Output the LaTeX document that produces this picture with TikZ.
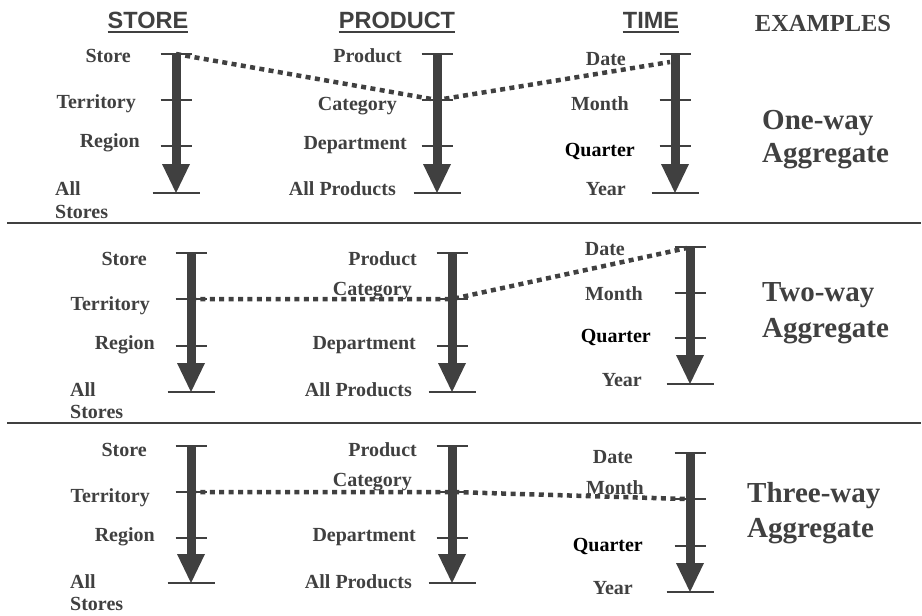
\documentclass[tikz,border=0pt]{standalone}
\usepackage{fontspec}
\setmainfont{Liberation Serif}
\newfontfamily\hdrfont{Liberation Sans}
\usetikzlibrary{arrows.meta}
\definecolor{dk}{RGB}{64,64,64}
\newcommand\hieraxis[6]{%
  \coordinate (#1a) at (#2,#3);
  \coordinate (#1b) at (#2,#4);
  \coordinate (#1c) at (#2,#5);
  \coordinate (#1d) at (#2,#6);
  \draw[tickline] ([xshift=-15.5pt]#1a) -- ([xshift=15.5pt]#1a);
  \draw[tickline] ([xshift=-15.5pt]#1b) -- ([xshift=15.5pt]#1b);
  \draw[tickline] ([xshift=-15.5pt]#1c) -- ([xshift=15.5pt]#1c);
  \draw[tickline] ([xshift=-23.5pt]#1d) -- ([xshift=23.5pt]#1d);
  \draw[axisarrow] (#1a) -- (#1d);
}
\begin{document}
\begin{tikzpicture}[x=1pt,y=-1pt,
  tickline/.style={draw=dk,line width=2pt},
  axisarrow/.style={draw=dk,line width=9pt,-{Triangle[width=28pt,length=29pt,line width=0pt]}},
  dotline/.style={draw=dk,line width=4.5pt,dash pattern=on 5pt off 4.4pt},
  sep/.style={draw=dk,line width=2pt},
  lab/.style={text=dk,inner sep=0pt,anchor=base east,font=\fontsize{20}{24}\selectfont\bfseries},
  labl/.style={lab,anchor=base west},
  qlab/.style={lab,text=black},
  hdr/.style={text=dk,inner sep=0pt,anchor=base,font=\hdrfont\fontsize{23.5}{28}\selectfont\bfseries},
  ex/.style={text=dk,inner sep=0pt,anchor=base west,font=\fontsize{29}{34}\selectfont\bfseries},
  uline/.style={draw=dk,line width=2pt}]
\useasboundingbox (0,0) rectangle (922,616);

% headers
\node[hdr] (hstore) at (148,28.3) {STORE};
\node[hdr] (hprod) at (397,28.3) {PRODUCT};
\node[hdr] (htime) at (651,28.3) {TIME};
\foreach \h in {hstore,hprod,htime}
  \draw[uline] ([yshift=-4pt]\h.base west) -- ([yshift=-4pt]\h.base east);
\node[text=dk,inner sep=0pt,anchor=base,font=\fontsize{24.5}{28}\selectfont\bfseries] (hex) at (823,31) {EXAMPLES};

% separators
\coordinate (sepAl) at (7,223); \coordinate (sepAr) at (921,223);
\coordinate (sepBl) at (7,423); \coordinate (sepBr) at (921,423);
\draw[sep] (sepAl) -- (sepAr);
\draw[sep] (sepBl) -- (sepBr);

% ===== panel 1 =====
\hieraxis{sA}{176}{54}{100}{146}{193}
\hieraxis{pA}{437}{54}{100}{146}{193}
\hieraxis{tA}{675}{54}{100}{146}{193}
\node[lab] (sA1) at (131,62.5) {Store};
\node[lab] (sA2) at (136,108) {Territory};
\node[lab] (sA3) at (140,147.5) {Region};
\node[labl] (sA4) at (55,195) {All};
\node[labl] (sA5) at (55,218) {Stores};
\node[lab] (pA1) at (402,62.5) {Product};
\node[lab] (pA2) at (397,110) {Category};
\node[lab] (pA3) at (407,149) {Department};
\node[lab] (pA4) at (396,195) {All Products};
\node[lab] (tA1) at (626,65) {Date};
\node[lab] (tA2) at (629,110) {Month};
\node[qlab] (tA3) at (635,156.5) {Quarter};
\node[lab] (tA4) at (626,195) {Year};
\node[ex] (exA1) at (762,129) {One-way};
\node[ex] (exA2) at (762,162.5) {Aggregate};
\coordinate (dA3) at (670,62);
\draw[dotline] (sAa) -- (pAb) -- (dA3);

% ===== panel 2 =====
\hieraxis{sB}{191}{253}{299}{346}{392}
\hieraxis{pB}{452}{253}{299}{346}{392}
\hieraxis{tB}{690}{247}{293}{338}{384}
\node[lab] (sB1) at (147,265) {Store};
\node[lab] (sB2) at (150,310.5) {Territory};
\node[lab] (sB3) at (155,349.7) {Region};
\node[labl] (sB4) at (70,396) {All};
\node[labl] (sB5) at (70,418) {Stores};
\node[lab] (pB1) at (417,265) {Product};
\node[lab] (pB2) at (412,295) {Category};
\node[lab] (pB3) at (416,349.7) {Department};
\node[lab] (pB4) at (412,396) {All Products};
\node[lab] (tB1) at (625,255) {Date};
\node[lab] (tB2) at (643,300.5) {Month};
\node[qlab] (tB3) at (651,342.5) {Quarter};
\node[lab] (tB4) at (642,386.5) {Year};
\node[ex] (exB1) at (762,301) {Two-way};
\node[ex] (exB2) at (762,337) {Aggregate};
\coordinate (dB3) at (687,248);
\draw[dotline] (sBb) -- (pBb) -- (dB3);

% ===== panel 3 =====
\hieraxis{sC}{191}{446}{492}{538}{583}
\hieraxis{pC}{452}{446}{492}{538}{583}
\hieraxis{tC}{690}{453}{499}{546}{592}
\node[lab] (sC1) at (147,456.5) {Store};
\node[lab] (sC2) at (150,502.5) {Territory};
\node[lab] (sC3) at (155,541.5) {Region};
\node[labl] (sC4) at (70,588) {All};
\node[labl] (sC5) at (70,610) {Stores};
\node[lab] (pC1) at (417,456.5) {Product};
\node[lab] (pC2) at (412,486.5) {Category};
\node[lab] (pC3) at (416,541.5) {Department};
\node[lab] (pC4) at (412,588) {All Products};
\node[lab] (tC1) at (633,463) {Date};
\node[lab] (tC2) at (644,494.7) {Month};
\node[qlab] (tC3) at (643,551.5) {Quarter};
\node[lab] (tC4) at (633,594.7) {Year};
\node[ex] (exC1) at (747,502.5) {Three-way};
\node[ex] (exC2) at (747,537.5) {Aggregate};
\coordinate (dC3) at (687,499);
\draw[dotline] (sCb) -- (pCb) -- (dC3);
\end{tikzpicture}
\end{document}
